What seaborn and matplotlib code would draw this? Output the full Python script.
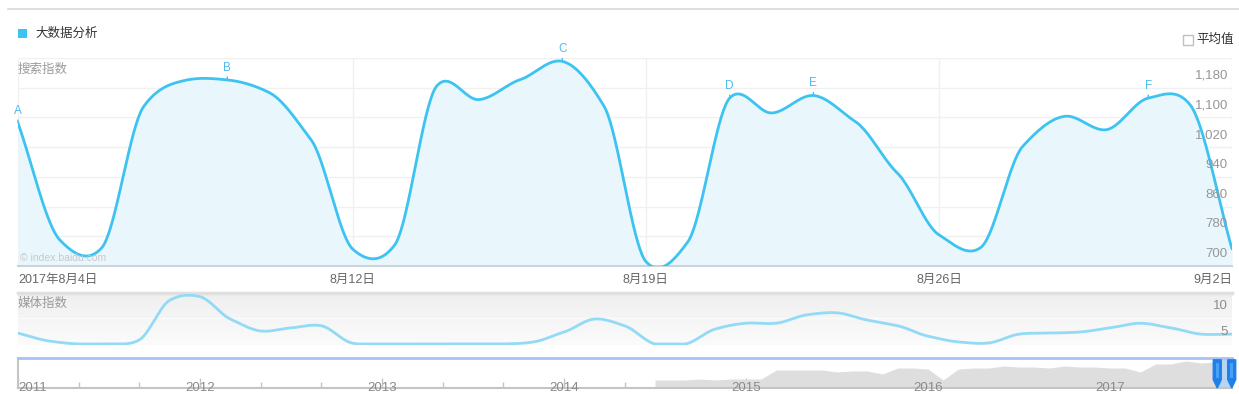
import numpy as np
import pandas as pd
import matplotlib
matplotlib.use("Agg")
import matplotlib.pyplot as plt
import seaborn as sns
from matplotlib.patches import Rectangle, Polygon
from matplotlib.lines import Line2D
from matplotlib.colors import LinearSegmentedColormap
import matplotlib.transforms as mtransforms

# ---------------- data ----------------
series_name = "大数据分析"
start_date = "2017-08-04"
end_date = "2017-09-02"
search_index = [1085, 770, 749, 1129, 1200, 1201, 1167, 1040, 745, 757,
                1184, 1148, 1202, 1251, 1130, 712, 765, 1152, 1112, 1159,
                1089, 951, 784, 750, 1022, 1103, 1067, 1152, 1134, 746]
date_tick_days = [0, 8, 15, 22, 29]
date_tick_labels = ["2017年8月4日", "8月12日", "8月19日", "8月26日", "9月2日"]
search_yticks = [700, 780, 860, 940, 1020, 1100, 1180]
marker_letters = ["A", "B", "C", "D", "E", "F"]
marker_days = [0, 5, 13, 17, 19, 27]

media_years = [2011 + k / 6 for k in range(40)] + [2017.67]
media_index = [7.1, 5.6, 5.0, 5.0, 5.8, 13.4, 14.1, 9.8, 7.5, 8.1,
               8.5, 5.2, 5.0, 5.0, 5.0, 5.0, 5.0, 5.4, 7.3, 9.8,
               8.5, 5.0, 5.0, 7.9, 9.0, 9.0, 10.6, 11.0, 9.6, 8.5,
               6.5, 5.4, 5.2, 6.9, 7.1, 7.3, 8.1, 9.0, 8.1, 6.9, 6.9]
media_yticks = [5, 10]

nav_start_year = 2014.5
nav_overview = [8, 8, 8, 9, 8, 9, 9, 9, 18, 18, 18, 18, 16, 17, 17, 14, 20, 20, 19,
                8, 19, 20, 20, 22, 21, 21, 20, 22, 21, 21, 20, 20, 16, 24, 24, 27, 25, 26]
nav_years = [2011, 2012, 2013, 2014, 2015, 2016, 2017]

# ---------------- helpers ----------------
def hermite_dense(x, y, n=30, k=1.0):
    x = np.asarray(x, float); y = np.asarray(y, float)
    h = np.diff(x); d = np.diff(y) / h
    m = np.empty_like(y)
    m[1:-1] = k * (y[2:] - y[:-2]) / (x[2:] - x[:-2])
    m[0] = d[0]; m[-1] = d[-1]
    xs, ys = [], []
    for i in range(len(x) - 1):
        t = np.linspace(0, 1, n, endpoint=(i == len(x) - 2))
        h00 = 2 * t**3 - 3 * t**2 + 1
        h10 = t**3 - 2 * t**2 + t
        h01 = -2 * t**3 + 3 * t**2
        h11 = t**3 - t**2
        xs.append(x[i] + t * h[i])
        ys.append(h00 * y[i] + h10 * h[i] * m[i] + h01 * y[i + 1] + h11 * h[i] * m[i + 1])
    return np.concatenate(xs), np.concatenate(ys)


def year_frac(d):
    d = pd.Timestamp(d)
    ndays = 366 if d.is_leap_year else 365
    return d.year + (d.dayofyear - 1) / ndays


sns.set_theme(style="white")
plt.rcParams["font.family"] = ["Liberation Sans", "Noto Sans CJK SC"]

W, H = 1239, 394
fig = plt.figure(figsize=(W / 100, H / 100), dpi=100)
fig.patch.set_facecolor("white")


def px_axes(x0, y0, x1, y1):
    return fig.add_axes([x0 / W, 1 - y1 / H, (x1 - x0) / W, (y1 - y0) / H])


LINE = "#3cc3f2"
FILL = "#e9f7fd"
GRID = "#f0f0f0"
LABEL = "#969696"

# ---------------- header ----------------
fig.add_artist(Line2D([8 / W, 1.0], [1 - 9 / H] * 2, color="#dedede", lw=1.5))
fig.add_artist(Rectangle((18 / W, 1 - 38 / H), 9 / W, 9 / H, transform=fig.transFigure,
                         color=LINE, lw=0))
fig.text(35 / W, 1 - 34 / H, series_name, va="center", ha="left", fontsize=9, color="#333333")
fig.add_artist(Rectangle((1183 / W, 1 - 45 / H), 10 / W, 10 / H, transform=fig.transFigure,
                         fill=False, edgecolor="#c0c0c0", lw=1))
fig.text(1196 / W, 1 - 40 / H, "平均值", va="center", ha="left", fontsize=9, color="#333333")

# ---------------- main search index chart ----------------
ax = px_axes(18, 58, 1232, 266)
days = np.arange(len(search_index))
sx, sy = hermite_dense(days, search_index, n=40, k=0.7)
df_main = pd.DataFrame({"day": sx, "value": sy})
ax.fill_between(sx, sy, 700, color=FILL, lw=0, zorder=1)
sns.lineplot(data=df_main, x="day", y="value", ax=ax, sort=False, estimator=None,
             color=LINE, linewidth=2, zorder=3)
ax.set_xlim(0, len(search_index) - 1)
ax.set_ylim(700, 1260)
ax.set_xlabel(""); ax.set_ylabel("")
ax.set_yticks(search_yticks + [1260])
ax.set_yticklabels([])
ax.set_xticks(date_tick_days)
ax.set_xticklabels(date_tick_labels, fontsize=9, color="#666666")
tl = ax.get_xticklabels()
tl[0].set_ha("left"); tl[-1].set_ha("right")
ax.tick_params(axis="x", length=0, pad=6)
ax.tick_params(axis="y", length=0)
ax.grid(True, color=GRID, lw=1)
ax.set_axisbelow(True)
for s in ["top", "left", "right"]:
    ax.spines[s].set_visible(False)
ax.spines["bottom"].set_color("#c9d3da")
ax.spines["bottom"].set_linewidth(1.5)
ax.set_facecolor("white")

for v in search_yticks:
    ax.annotate(f"{v:,}", xy=(1, v), xycoords=("axes fraction", "data"),
                xytext=(-3, 6.5), textcoords="offset points", ha="right", va="baseline",
                fontsize=9.5, color=LABEL, zorder=5)
ax.text(0.0, 0.942, "搜索指数", transform=ax.transAxes, ha="left", va="center",
        fontsize=9, color="#9a9a9a")
ax.annotate("© index.baidu.com", xy=(0, 0), xycoords="axes fraction", xytext=(1.5, 2),
            textcoords="offset points", ha="left", va="bottom", fontsize=7.5, color="#c8c8c8")
for letter, d in zip(marker_letters, marker_days):
    ax.annotate(letter, xy=(d, search_index[d]), xytext=(0, 4.5), textcoords="offset points",
                ha="center", va="bottom", fontsize=8.5, color="#4fb9ee",
                arrowprops=dict(arrowstyle="-", color="#4fb9ee", lw=1, shrinkA=0, shrinkB=0),
                zorder=6)

# ---------------- media index panel ----------------
axm = px_axes(18, 293, 1232, 345)
m_lo, m_hi = 5 - 1 / 5.2, 5 + 51 / 5.2
x0m, x1m = media_years[0], media_years[-1]
grad = np.linspace(0, 1, 100).reshape(-1, 1)
cmap = LinearSegmentedColormap.from_list("g", ["#fbfbfb", "#efefef"])
axm.imshow(grad, extent=[x0m, x1m, m_lo, m_hi], origin="lower", aspect="auto",
           cmap=cmap, zorder=0)
axm.axhline(10, color="#fbfbfb", lw=1, zorder=1)
mx, my = hermite_dense(media_years, media_index, n=30, k=0.8)
my = np.maximum(my, min(media_index))
df_media = pd.DataFrame({"year": mx, "value": my})
sns.lineplot(data=df_media, x="year", y="value", ax=axm, sort=False, estimator=None,
             color="#92daf5", linewidth=2, zorder=3)
axm.set_xlim(x0m, x1m)
axm.set_ylim(m_lo, m_hi)
axm.set_xlabel(""); axm.set_ylabel("")
axm.set_xticks([]); axm.set_yticks([])
for s in ["left", "right", "bottom"]:
    axm.spines[s].set_visible(False)
axm.spines["top"].set_color("#e0e0e0")
axm.spines["top"].set_linewidth(2.5)
for v in media_yticks:
    axm.annotate(f"{v}", xy=(1, v), xycoords=("axes fraction", "data"),
                 xytext=(-3, 6.5), textcoords="offset points", ha="right", va="baseline",
                 fontsize=9.5, color="#8c8c8c", zorder=5)
axm.text(0.0, (345 - 304) / 52, "媒体指数", transform=axm.transAxes, ha="left",
         va="center", fontsize=9, color="#9a9a9a")

# ---------------- navigator ----------------
axn = px_axes(18, 358, 1232, 388)
nx = nav_start_year + np.arange(len(nav_overview)) / 12.0
axn.fill_between(nx, nav_overview, 0, color="#dedede", lw=0, zorder=1)
axn.set_xlim(x0m, x1m)
axn.set_ylim(0, 30)
sel0, sel1 = year_frac(start_date), year_frac(end_date)
axn.axvspan(sel0, sel1, color="#b9d4f3", lw=0, zorder=2)
hw = 4 / 182
trans = mtransforms.blended_transform_factory(axn.transData, axn.transAxes)
for xv in (sel0, sel1):
    poly = Polygon([(xv - hw, 0.94), (xv + hw, 0.94), (xv + hw, 0.28), (xv, 0.0),
                    (xv - hw, 0.28)], closed=True, transform=trans, color="#2080ea",
                   clip_on=False, zorder=4)
    axn.add_patch(poly)
    inner = Rectangle((xv - hw * 0.35, 0.35), hw * 0.7, 0.5, transform=trans,
                      color="#4aa0f5", lw=0, clip_on=False, zorder=5)
    axn.add_patch(inner)
axn.set_xticks(nav_years)
axn.set_xticks(np.arange(2011, 2017.67, 1 / 3), minor=True)
axn.set_xticklabels([])
axn.set_yticks([])
axn.tick_params(axis="x", which="major", direction="in", length=7, width=1, color="#c4c4c4",
                bottom=True)
axn.tick_params(axis="x", which="minor", direction="in", length=4.5, width=1,
                color="#c4c4c4", bottom=True)
axn.spines["right"].set_visible(False)
axn.spines["top"].set_color("#a6c3f2")
axn.spines["top"].set_linewidth(2)
axn.spines["bottom"].set_color("#c4c4c4")
axn.spines["bottom"].set_linewidth(1.5)
axn.spines["left"].set_color("#c4c4c4")
axn.spines["left"].set_linewidth(1.5)
for i, yr in enumerate(nav_years):
    axn.text(yr, (388 - 374) / 30, str(yr), ha="left" if i == 0 else "center",
             va="center", fontsize=9.5, color="#8a8a8a", zorder=3)

fig.savefig("out.png", dpi=100, facecolor="white")
